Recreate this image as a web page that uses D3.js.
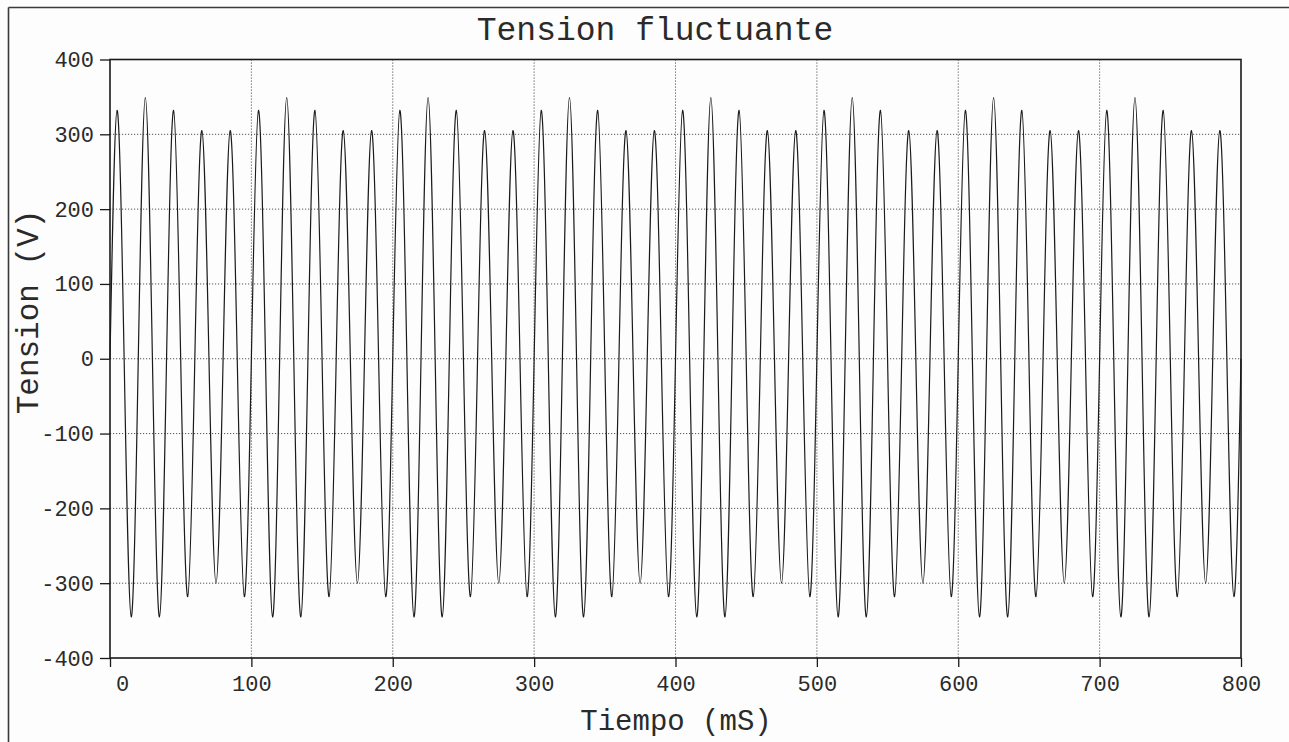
<!DOCTYPE html>
<html>
<head>
<meta charset="utf-8">
<script src="https://cdn.jsdelivr.net/npm/d3@7"></script>
<style>
  html, body { margin: 0; padding: 0; background: #fdfdfd; }
  svg { display: block; }
  text { font-family: "Courier New", "Liberation Mono", monospace; fill: #2a2a2a; }
</style>
</head>
<body>
<svg id="chart" width="1289" height="742"></svg>
<script>
// Tick values of both axes
const xTicks = [0, 100, 200, 300, 400, 500, 600, 700, 800];
const yTicks = [-400, -300, -200, -100, 0, 100, 200, 300, 400];

// Crest voltage of each positive half-cycle (50 Hz, one every 20 ms, first at 5 ms)
const positivePeaks = [
  332, 349, 332, 305, 305,  332, 349, 332, 305, 305,
  332, 349, 332, 305, 305,  332, 349, 332, 305, 305,
  332, 349, 332, 305, 305,  332, 349, 332, 305, 305,
  332, 349, 332, 305, 305,  332, 349, 332, 305, 305
];

// Trough voltage of each negative half-cycle (first at 15 ms)
const negativePeaks = [
  -345, -345, -318, -300, -318,  -345, -345, -318, -300, -318,
  -345, -345, -318, -300, -318,  -345, -345, -318, -300, -318,
  -345, -345, -318, -300, -318,  -345, -345, -318, -300, -318,
  -345, -345, -318, -300, -318,  -345, -345, -318, -300, -318
];

const periodMs = 20;

// Zero crossings and crests of the waveform, in order
const samples = [];
positivePeaks.forEach((p, i) => {
  const t0 = i * periodMs;
  samples.push([t0, 0]);
  samples.push([t0 + periodMs / 4, p]);
  samples.push([t0 + periodMs / 2, 0]);
  samples.push([t0 + 3 * periodMs / 4, negativePeaks[i]]);
});
samples.push([positivePeaks.length * periodMs, 0]);

const svg = d3.select("#chart");

const plot = { left: 110, right: 1241, top: 59.5, bottom: 658 };

const x = d3.scaleLinear().domain([0, 800]).range([plot.left, plot.right]);
const y = d3.scaleLinear().domain([-400, 400]).range([plot.bottom, plot.top]);

// Outer frame lines
svg.append("line")
  .attr("x1", 8.5).attr("y1", 7.5).attr("x2", 1289).attr("y2", 7.5)
  .attr("stroke", "#3a3a3a").attr("stroke-width", 1.6);
svg.append("line")
  .attr("x1", 8.5).attr("y1", 7.5).attr("x2", 8.5).attr("y2", 742)
  .attr("stroke", "#3a3a3a").attr("stroke-width", 1.6);

// Dotted grid
const grid = svg.append("g").attr("stroke", "#555").attr("stroke-width", 1)
  .attr("stroke-dasharray", "1.2,1.8");
grid.selectAll("line.v").data(xTicks.slice(1, -1)).join("line")
  .attr("class", "v")
  .attr("x1", d => x(d)).attr("x2", d => x(d))
  .attr("y1", plot.top).attr("y2", plot.bottom);
grid.selectAll("line.h").data(yTicks.slice(1, -1)).join("line")
  .attr("class", "h")
  .attr("x1", plot.left).attr("x2", plot.right)
  .attr("y1", d => y(d)).attr("y2", d => y(d));

// Waveform
const line = d3.line()
  .x(d => x(d[0]))
  .y(d => y(d[1]))
  .curve(d3.curveNatural);

svg.append("path")
  .datum(samples)
  .attr("d", line)
  .attr("fill", "none")
  .attr("stroke", "#1a1a1a")
  .attr("stroke-width", 1.2);

// Plot frame
svg.append("rect")
  .attr("x", plot.left).attr("y", plot.top)
  .attr("width", plot.right - plot.left).attr("height", plot.bottom - plot.top)
  .attr("fill", "none").attr("stroke", "#1a1a1a").attr("stroke-width", 1.6);

// Y axis
const yAxis = svg.append("g")
  .attr("transform", `translate(${plot.left},0)`)
  .call(d3.axisLeft(y).tickValues(yTicks).tickSize(10).tickPadding(6)
    .tickFormat(d => String(d)));
yAxis.select(".domain").remove();
yAxis.selectAll(".tick line").attr("stroke", "#1a1a1a").attr("stroke-width", 1.3);
yAxis.selectAll(".tick text")
  .style("font-size", "22px")
  .attr("fill", "#2a2a2a");

// X axis
const xAxis = svg.append("g")
  .attr("transform", `translate(0,${plot.bottom})`)
  .call(d3.axisBottom(x).tickValues(xTicks).tickSize(9).tickPadding(8)
    .tickFormat(d => String(d)));
xAxis.select(".domain").remove();
xAxis.selectAll(".tick line").attr("stroke", "#1a1a1a").attr("stroke-width", 1.3);
xAxis.selectAll(".tick text")
  .style("font-size", "22px")
  .attr("fill", "#2a2a2a")
  .attr("dx", d => d === 0 ? 12 : 0);

// Title and axis titles
svg.append("text")
  .attr("x", 655).attr("y", 40)
  .attr("text-anchor", "middle")
  .style("font-size", "33px")
  .text("Tension fluctuante");

svg.append("text")
  .attr("x", 676).attr("y", 730)
  .attr("text-anchor", "middle")
  .style("font-size", "29px")
  .text("Tiempo (mS)");

svg.append("text")
  .attr("transform", "translate(38,312) rotate(-90)")
  .attr("text-anchor", "middle")
  .style("font-size", "31px")
  .text("Tension (V)");
</script>
</body>
</html>
